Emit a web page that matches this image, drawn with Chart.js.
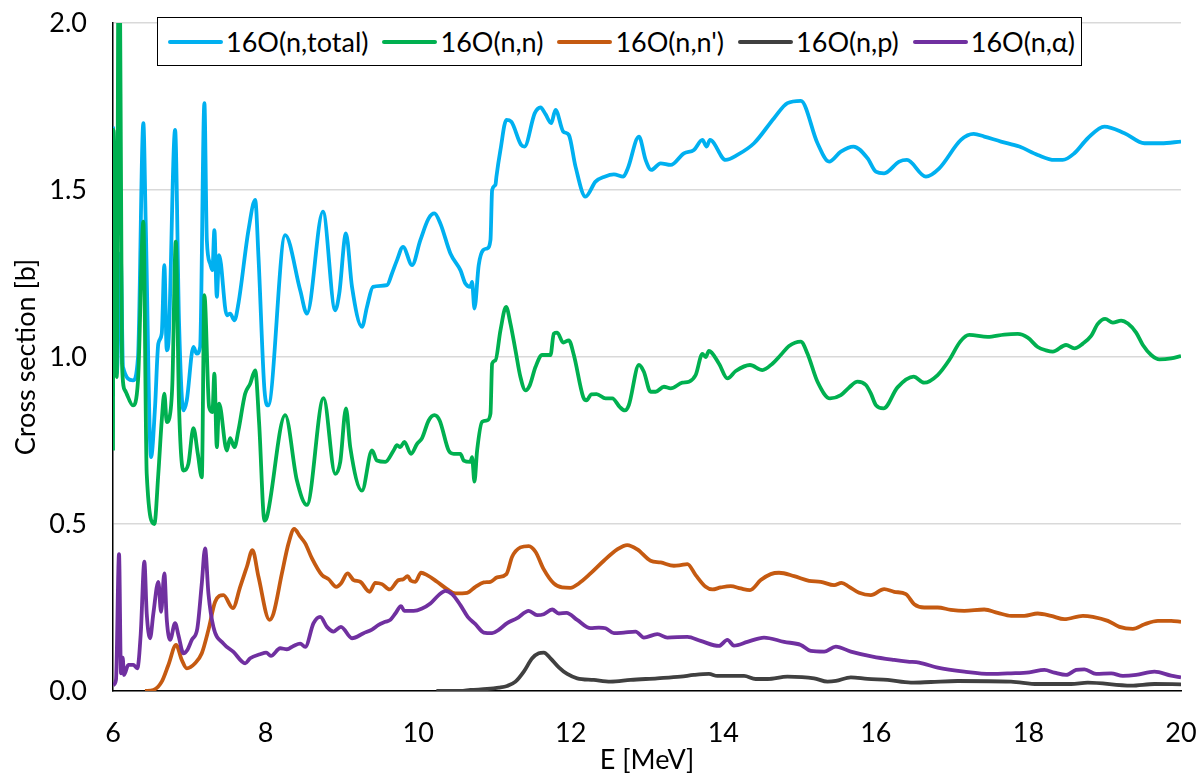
<!DOCTYPE html>
<html>
<head>
<meta charset="utf-8">
<script src="https://cdn.jsdelivr.net/npm/chart.js@4.4.1/dist/chart.umd.min.js"></script>
<style>
  html, body { margin: 0; padding: 0; background: #fff; }
  #wrap { position: relative; width: 1204px; height: 778px; }
  #legend {
    position: absolute; left: 157px; top: 17px; width: 925px; height: 49px;
    box-sizing: border-box; border: 1.5px solid #000; background: #fff;
    display: flex; align-items: center; padding-left: 10px;
    font-family: Lato, "Open Sans", sans-serif; font-size: 27px; color: #000;
  }
  .lg-item { display: flex; align-items: center; margin-right: 14px; white-space: nowrap; }
  .lg-line { display: inline-block; width: 55px; height: 4px; border-radius: 2px; margin-right: 3px; }
</style>
</head>
<body>
<div id="wrap">
  <canvas id="c"></canvas>
  <div id="legend"></div>
</div>
<script>
// Achsen
const xTickValues = [6, 8, 10, 12, 14, 16, 18, 20];
const yTickValues = [0, 0.5, 1.0, 1.5, 2.0];

// Serien: Name, Farbe
const seriesNames = ['16O(n,total)', '16O(n,n)', "16O(n,n')", '16O(n,p)', '16O(n,\u03b1)'];
const seriesColors = ['#00B0F0', '#00B050', '#C55A11', '#404040', '#7030A0'];

// Daten [E in MeV, Wirkungsquerschnitt in b]
const totalXS = [
  [6.000,1.69],[6.049,0.95],[6.101,1.31],[6.131,0.97],[6.262,0.93],[6.328,1.00],[6.398,1.70],[6.429,1.40],
  [6.499,0.70],[6.551,0.85],[6.594,1.04],[6.639,1.07],[6.673,1.275],[6.705,1.02],[6.726,1.04],[6.814,1.68],
  [6.866,1.10],[6.923,0.84],[6.967,0.87],[7.054,1.03],[7.098,1.01],[7.142,1.03],[7.198,1.76],[7.230,1.35],
  [7.273,1.28],[7.303,1.26],[7.329,1.38],[7.361,1.18],[7.391,1.305],[7.492,1.125],[7.535,1.13],[7.592,1.11],
  [7.644,1.16],[7.776,1.38],[7.864,1.47],[7.907,1.30],[7.986,0.90],[8.034,0.855],[8.257,1.365],[8.454,1.20],
  [8.542,1.13],[8.752,1.435],[8.913,1.14],[8.966,1.19],[9.054,1.37],[9.133,1.21],[9.264,1.09],[9.329,1.15],
  [9.408,1.21],[9.592,1.215],[9.657,1.25],[9.723,1.29],[9.802,1.33],[9.920,1.275],[10.029,1.35],[10.138,1.415],
  [10.213,1.43],[10.291,1.40],[10.423,1.31],[10.554,1.26],[10.619,1.22],[10.685,1.21],[10.707,1.225],[10.738,1.145],
  [10.794,1.275],[10.852,1.32],[10.904,1.325],[10.948,1.35],[10.970,1.50],[11.013,1.515],[11.026,1.54],[11.079,1.62],
  [11.157,1.71],[11.219,1.705],[11.350,1.635],[11.394,1.63],[11.529,1.73],[11.604,1.747],[11.669,1.727],[11.744,1.70],
  [11.801,1.74],[11.902,1.675],[11.975,1.665],[12.063,1.57],[12.194,1.48],[12.325,1.525],[12.444,1.54],[12.566,1.547],
  [12.689,1.54],[12.749,1.565],[12.894,1.66],[12.982,1.59],[13.056,1.56],[13.178,1.58],[13.310,1.575],[13.484,1.61],
  [13.615,1.62],[13.726,1.65],[13.782,1.63],[13.825,1.65],[14.031,1.59],[14.185,1.605],[14.403,1.64],[14.665,1.715],
  [14.841,1.76],[15.016,1.767],[15.235,1.64],[15.387,1.585],[15.541,1.615],[15.707,1.63],[15.891,1.595],[16.000,1.555],
  [16.108,1.55],[16.306,1.585],[16.407,1.59],[16.656,1.54],[16.831,1.565],[17.115,1.65],[17.282,1.668],[17.421,1.66],
  [17.640,1.645],[17.881,1.63],[18.122,1.605],[18.340,1.59],[18.450,1.59],[18.602,1.61],[18.778,1.655],[18.996,1.69],
  [19.259,1.67],[19.521,1.64],[19.740,1.64],[20.000,1.645],
];

const elasticXS = [
  [6.000,0.72],[6.007,1.68],[6.049,0.94],[6.079,2.60],[6.118,0.98],[6.157,0.90],[6.262,0.855],[6.328,0.93],
  [6.398,1.405],[6.442,0.65],[6.542,0.50],[6.594,0.65],[6.639,0.81],[6.673,0.89],[6.705,0.805],[6.739,0.817],
  [6.778,0.92],[6.823,1.345],[6.866,0.85],[6.923,0.66],[6.988,0.68],[7.054,0.787],[7.112,0.71],[7.164,0.64],
  [7.198,1.185],[7.260,0.85],[7.303,0.835],[7.329,0.95],[7.361,0.73],[7.391,0.86],[7.492,0.72],[7.535,0.757],
  [7.592,0.73],[7.644,0.78],[7.732,0.89],[7.798,0.92],[7.864,0.96],[7.916,0.80],[7.986,0.51],[8.017,0.52],
  [8.257,0.826],[8.411,0.63],[8.542,0.557],[8.760,0.877],[8.913,0.65],[8.979,0.686],[9.054,0.846],[9.110,0.73],
  [9.264,0.60],[9.395,0.72],[9.461,0.69],[9.570,0.686],[9.678,0.72],[9.723,0.736],[9.766,0.73],[9.819,0.746],
  [9.907,0.71],[9.986,0.74],[10.051,0.757],[10.138,0.81],[10.213,0.826],[10.282,0.81],[10.400,0.72],[10.466,0.71],
  [10.554,0.71],[10.597,0.69],[10.685,0.686],[10.707,0.70],[10.738,0.627],[10.773,0.72],[10.839,0.806],[10.904,0.81],
  [10.948,0.83],[10.970,0.98],[11.013,0.99],[11.079,1.08],[11.153,1.15],[11.210,1.10],[11.276,1.02],[11.341,0.94],
  [11.407,0.90],[11.463,0.915],[11.538,0.97],[11.626,1.006],[11.735,1.006],[11.778,1.07],[11.823,1.073],[11.902,1.043],
  [11.975,1.05],[12.041,1.006],[12.164,0.88],[12.207,0.87],[12.269,0.888],[12.339,0.889],[12.457,0.876],[12.545,0.876],
  [12.644,0.85],[12.710,0.84],[12.762,0.856],[12.894,0.976],[12.959,0.956],[13.047,0.896],[13.113,0.896],[13.222,0.911],
  [13.310,0.906],[13.463,0.923],[13.550,0.926],[13.638,0.946],[13.726,1.009],[13.769,1.0],[13.812,1.018],[13.944,0.98],
  [14.054,0.936],[14.163,0.958],[14.350,0.976],[14.513,0.961],[14.644,0.98],[14.753,1.006],[14.862,1.033],[15.016,1.046],
  [15.104,1.01],[15.235,0.926],[15.400,0.876],[15.541,0.886],[15.650,0.909],[15.760,0.926],[15.869,0.916],[15.934,0.891],
  [16.000,0.856],[16.101,0.846],[16.284,0.909],[16.495,0.941],[16.634,0.923],[16.810,0.946],[16.962,0.991],[17.106,1.046],
  [17.224,1.066],[17.466,1.06],[17.684,1.067],[17.860,1.069],[17.991,1.058],[18.122,1.03],[18.231,1.02],[18.319,1.016],
  [18.493,1.036],[18.602,1.026],[18.713,1.04],[18.822,1.063],[18.909,1.099],[19.005,1.114],[19.106,1.103],[19.215,1.109],
  [19.304,1.10],[19.412,1.073],[19.500,1.036],[19.609,1.006],[19.718,0.993],[19.871,0.996],[20.000,1.003],
];

const inelasticXS = [
  [6.420,0.0],[6.529,0.003],[6.639,0.028],[6.726,0.078],[6.827,0.138],[6.902,0.093],[6.967,0.068],[7.076,0.083],
  [7.164,0.113],[7.251,0.183],[7.339,0.267],[7.448,0.287],[7.571,0.248],[7.667,0.312],[7.755,0.372],[7.828,0.422],
  [7.907,0.342],[8.051,0.213],[8.104,0.232],[8.214,0.352],[8.301,0.442],[8.375,0.485],[8.454,0.462],[8.520,0.442],
  [8.608,0.397],[8.739,0.347],[8.825,0.335],[8.927,0.312],[8.988,0.322],[9.075,0.352],[9.154,0.332],[9.241,0.327],
  [9.364,0.297],[9.438,0.324],[9.526,0.32],[9.626,0.304],[9.744,0.332],[9.802,0.334],[9.862,0.344],[9.907,0.33],
  [9.963,0.327],[10.038,0.354],[10.117,0.347],[10.248,0.327],[10.379,0.305],[10.488,0.292],[10.642,0.294],[10.751,0.312],
  [10.860,0.325],[10.948,0.327],[11.035,0.34],[11.157,0.35],[11.232,0.402],[11.341,0.43],[11.450,0.434],[11.538,0.417],
  [11.647,0.364],[11.778,0.322],[11.888,0.31],[11.997,0.309],[12.106,0.322],[12.260,0.352],[12.434,0.39],[12.610,0.424],
  [12.741,0.437],[12.873,0.424],[13.047,0.39],[13.178,0.385],[13.353,0.375],[13.441,0.377],[13.529,0.38],[13.638,0.347],
  [13.769,0.312],[13.857,0.304],[13.966,0.31],[14.097,0.314],[14.228,0.307],[14.350,0.302],[14.491,0.332],[14.622,0.35],
  [14.731,0.354],[14.928,0.344],[15.125,0.33],[15.278,0.327],[15.453,0.317],[15.550,0.324],[15.650,0.312],[15.781,0.294],
  [15.934,0.287],[16.109,0.305],[16.240,0.297],[16.394,0.29],[16.503,0.26],[16.634,0.25],[16.810,0.25],[16.984,0.243],
  [17.159,0.24],[17.421,0.244],[17.597,0.234],[17.772,0.225],[17.946,0.225],[18.122,0.232],[18.297,0.225],[18.471,0.215],
  [18.713,0.225],[18.844,0.222],[19.041,0.21],[19.193,0.192],[19.369,0.186],[19.522,0.2],[19.697,0.21],[19.871,0.21],
  [20.000,0.207],
];

const protonXS = [
  [10.239,0.0],[10.554,0.0],[10.685,0.003],[10.904,0.006],[11.056,0.01],[11.167,0.015],[11.276,0.028],[11.385,0.058],
  [11.495,0.098],[11.581,0.113],[11.647,0.115],[11.735,0.098],[11.844,0.071],[11.954,0.051],[12.085,0.038],[12.303,0.033],
  [12.522,0.028],[12.785,0.033],[13.135,0.038],[13.441,0.043],[13.615,0.048],[13.812,0.051],[13.922,0.045],[14.097,0.045],
  [14.272,0.045],[14.425,0.036],[14.579,0.036],[14.841,0.043],[15.190,0.038],[15.366,0.028],[15.475,0.03],[15.672,0.041],
  [15.891,0.036],[16.154,0.033],[16.459,0.025],[16.722,0.027],[17.072,0.03],[17.772,0.028],[18.122,0.021],[18.559,0.021],
  [18.778,0.025],[19.347,0.016],[19.652,0.021],[20.000,0.02],
];

const alphaXS = [
  [6.004,0.018],[6.039,0.033],[6.079,0.41],[6.105,0.053],[6.127,0.10],[6.144,0.048],[6.201,0.078],[6.266,0.078],
  [6.319,0.068],[6.364,0.173],[6.411,0.387],[6.442,0.232],[6.486,0.158],[6.529,0.232],[6.594,0.327],[6.630,0.237],
  [6.673,0.352],[6.705,0.213],[6.748,0.153],[6.814,0.203],[6.857,0.168],[6.923,0.113],[6.975,0.123],[7.033,0.153],
  [7.106,0.188],[7.164,0.322],[7.207,0.427],[7.251,0.292],[7.316,0.192],[7.448,0.142],[7.579,0.117],[7.732,0.083],
  [7.798,0.098],[7.929,0.11],[8.008,0.115],[8.070,0.105],[8.192,0.128],[8.280,0.125],[8.366,0.135],[8.454,0.142],
  [8.520,0.132],[8.629,0.203],[8.717,0.222],[8.804,0.192],[8.891,0.178],[8.988,0.192],[9.133,0.158],[9.285,0.173],
  [9.395,0.184],[9.482,0.198],[9.570,0.207],[9.635,0.213],[9.701,0.232],[9.776,0.254],[9.819,0.24],[9.941,0.24],
  [10.051,0.247],[10.160,0.262],[10.269,0.287],[10.357,0.30],[10.445,0.29],[10.554,0.257],[10.650,0.222],[10.751,0.20],
  [10.860,0.175],[10.970,0.173],[11.056,0.183],[11.167,0.203],[11.298,0.218],[11.450,0.24],[11.560,0.227],[11.647,0.23],
  [11.757,0.244],[11.844,0.232],[11.945,0.234],[12.085,0.213],[12.260,0.188],[12.369,0.19],[12.457,0.188],[12.566,0.173],
  [12.697,0.175],[12.850,0.178],[12.959,0.16],[13.135,0.17],[13.266,0.16],[13.529,0.162],[13.703,0.15],[13.944,0.135],
  [14.054,0.153],[14.140,0.136],[14.316,0.147],[14.534,0.16],[14.797,0.147],[15.016,0.138],[15.147,0.12],[15.322,0.118],
  [15.475,0.133],[15.672,0.118],[15.957,0.103],[16.240,0.093],[16.416,0.088],[16.568,0.085],[16.810,0.07],[17.159,0.058],
  [17.509,0.051],[17.772,0.053],[18.012,0.056],[18.209,0.063],[18.340,0.055],[18.494,0.048],[18.625,0.063],[18.734,0.065],
  [18.887,0.051],[19.084,0.053],[19.238,0.045],[19.412,0.048],[19.652,0.058],[19.871,0.046],[20.000,0.041],
];

const seriesData = [totalXS, elasticXS, inelasticXS, protonXS, alphaXS];

const FONT = 'Lato, "Open Sans", sans-serif';

// Legende als HTML (liegt im Plotbereich, wie in der Vorlage)
document.getElementById('legend').innerHTML = seriesNames.map((n, i) =>
  `<span class="lg-item"><span class="lg-line" style="background:${seriesColors[i]}"></span>${n}</span>`
).join('');

const datasets = seriesNames.map((name, i) => ({
  label: name,
  data: seriesData[i].map(([x, y]) => ({ x, y })),
  borderColor: seriesColors[i],
  backgroundColor: seriesColors[i],
  borderWidth: 3.8,
  pointRadius: 0,
  cubicInterpolationMode: 'monotone',
  fill: false,
  order: seriesNames.length - i, // spätere Serien oben
}));

new Chart(document.getElementById('c').getContext('2d'), {
  type: 'line',
  data: { datasets },
  options: {
    responsive: true,
    maintainAspectRatio: false,
    animation: false,
    layout: { padding: { top: 23, right: 23, left: 0, bottom: 0 } },
    plugins: { legend: { display: false }, tooltip: { enabled: false } },
    scales: {
      x: {
        type: 'linear', min: 6, max: 20,
        afterBuildTicks: (s) => { s.ticks = xTickValues.map((v) => ({ value: v })); },
        // feste Höhe, kein Label-Überhang -> Plotbereich wie in der Vorlage
        afterFit: (s) => { s.height = 87; s.paddingLeft = 0; s.paddingRight = 0; },
        grid: { display: false, drawTicks: false },
        border: { display: true, color: '#000', width: 1.5 },
        ticks: { color: '#000', font: { family: FONT, size: 27 }, padding: 26, maxRotation: 0 },
        title: { display: true, text: 'E [MeV]', color: '#000', font: { family: FONT, size: 27 }, padding: { top: 0, bottom: 2 } },
      },
      y: {
        type: 'linear', min: 0, max: 2,
        afterBuildTicks: (s) => { s.ticks = yTickValues.map((v) => ({ value: v })); },
        afterFit: (s) => { s.width = 113; s.paddingTop = 0; s.paddingBottom = 0; },
        grid: { color: '#D9D9D9', lineWidth: 1.5, drawTicks: false },
        border: { display: true, color: '#000', width: 1.5 },
        ticks: { color: '#000', font: { family: FONT, size: 27 }, padding: 26, callback: (v) => Number(v).toFixed(1) },
        title: { display: true, text: 'Cross section [b]', color: '#000', font: { family: FONT, size: 27 }, padding: { top: 10, bottom: 0 } },
      },
    },
  },
});
</script>
</body>
</html>
